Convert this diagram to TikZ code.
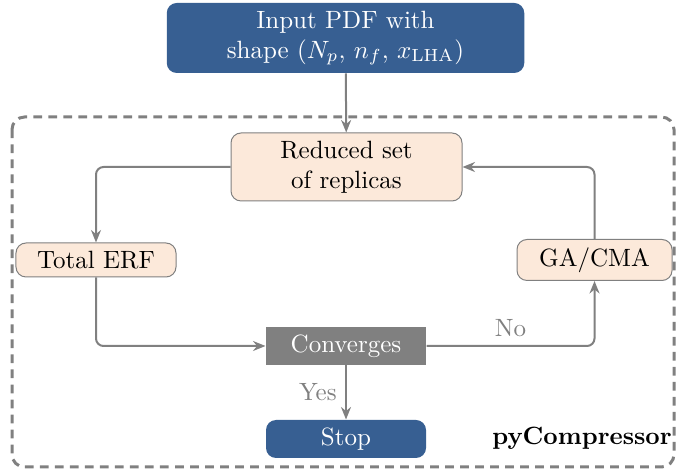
\documentclass[tikz,border=0pt]{standalone}
\usepackage{amsmath}
\usepackage{tikz}
\usetikzlibrary{calc, positioning, arrows.meta}

\definecolor{pdfblue}{HTML}{375F92}
\definecolor{peach}{HTML}{FCE9DA}
\definecolor{linegray}{HTML}{808080}

\begin{document}
\begin{tikzpicture}[
  x=0.4pt, y=-0.4pt,
  flow/.style={
    draw=linegray,
    line width=0.8pt,
    rounded corners=3pt,
    -{Stealth[length=5pt,width=4pt]}
    },
  bluebox/.style={
    fill=pdfblue,
    text=white,
    rounded corners=4pt,
    align=center
    },
  peachbox/.style={
    draw=linegray,
    fill=peach,
    rounded corners=4pt,
    align=center
    },
  graybox/.style={
    fill=linegray,
    text=white
    }
]

\useasboundingbox (0,0) rectangle (678,470);

% outer frame
\draw[linegray, line width=1.2pt, dash pattern=on 3.5pt off 2.5pt, rounded corners=5pt]
  (12,117) rectangle (674,467);

\node[bluebox, minimum width=143pt, minimum height=28pt, inner sep=1pt] (input) at (345.5,38)
  {Input PDF with\\ shape $(N_p,\, n_f,\, x_{\text{LHA}})$};

\node[peachbox, minimum width=92.4pt, minimum height=27.2pt, inner sep=1pt] (reduced) at (346.5,167)
  {Reduced set\\ of replicas};

\node[peachbox, minimum width=64pt, minimum height=13.6pt, inner sep=1pt] (erf) at (96,260)
  {Total ERF};

\node[peachbox, minimum width=62pt, minimum height=16.4pt, inner sep=1pt] (gacma) at (594.5,260)
  {GA/CMA};

\node[graybox, minimum width=64pt, minimum height=15.2pt, inner sep=1pt] (conv) at (346,346)
  {Converges};

\node[bluebox, minimum width=64pt, minimum height=15.2pt, inner sep=1pt] (stop) at (346,439)
  {Stop};

\node[font=\bfseries] (name) at (582,438) {pyCompressor};

% connectors
\draw[flow] (input) -- (reduced);
\draw[flow] (reduced.west) -| (erf.north);
\draw[flow] (erf.south) |- (conv.west);
\draw[flow] (conv.east) -| node[pos=0.25, above, text=linegray] {No} (gacma.south);
\draw[flow] (gacma.north) |- (reduced.east);
\draw[flow] (conv) -- node[left, text=linegray] {Yes} (stop);

\end{tikzpicture}
\end{document}
